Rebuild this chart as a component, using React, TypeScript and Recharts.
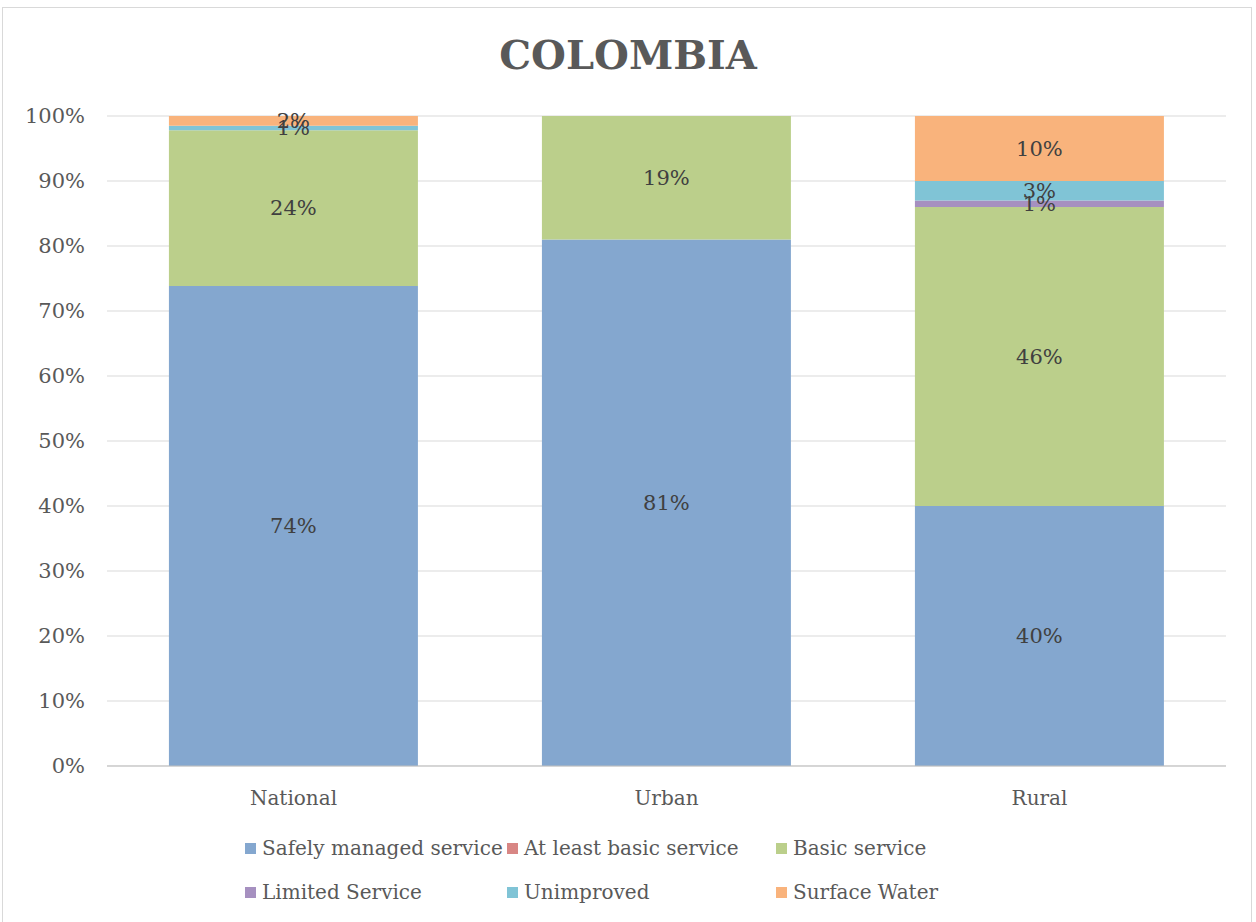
import { BarChart, Bar, XAxis, YAxis, CartesianGrid, LabelList } from 'recharts'

const categories = ['National', 'Urban', 'Rural']
const safelyManaged = [74, 81, 40]
const atLeastBasic = [0, 0, 0]
const basicService = [24, 19, 46]
const limitedService = [0, 0, 1]
const unimproved = [0.7, 0, 3]
const surfaceWater = [1.5, 0, 10]
const yTicks = [0, 0.1, 0.2, 0.3, 0.4, 0.5, 0.6, 0.7, 0.8, 0.9, 1]

const SERIES = [
  { key: 'safely', name: 'Safely managed service', color: '#84a7cf', values: safelyManaged },
  { key: 'atLeast', name: 'At least basic service', color: '#d88684', values: atLeastBasic },
  { key: 'basic', name: 'Basic service', color: '#bbcf8b', values: basicService },
  { key: 'limited', name: 'Limited Service', color: '#a690c0', values: limitedService },
  { key: 'unimproved', name: 'Unimproved', color: '#80c4d6', values: unimproved },
  { key: 'surface', name: 'Surface Water', color: '#f9b37c', values: surfaceWater },
]

const data = categories.map((c, i) => {
  const row: Record<string, string | number> = { name: c }
  SERIES.forEach((s) => {
    row[s.key] = s.values[i]
  })
  return row
})

const FONT = '"DejaVu Serif", serif'
const TEXT = '#595959'

// skip labels for empty segments
function SegLabel(props: any) {
  const { x, y, width, height, value } = props
  if (!value) return null
  return (
    <text
      x={x + width / 2}
      y={y + height / 2}
      textAnchor="middle"
      dominantBaseline="central"
      fill="#404040"
      fontSize={21}
      fontFamily={FONT}
    >
      {`${Math.round(value)}%`}
    </text>
  )
}

const legendCols = [245, 507, 776]
const legendRows = [848, 892]

export default function App() {
  return (
    <div style={{ position: 'absolute', left: 0, top: 0, width: 1256, height: 922, background: '#fff', overflow: 'hidden' }}>
      <div
        style={{
          position: 'absolute',
          left: 2,
          top: 7,
          width: 1248,
          height: 930,
          border: '1px solid #d9d9d9',
        }}
      />
      <div
        style={{
          position: 'absolute',
          left: 0,
          width: 1256,
          top: 31,
          textAlign: 'center',
          fontFamily: FONT,
          fontWeight: 'bold',
          fontSize: 40,
          color: TEXT,
        }}
      >
        COLOMBIA
      </div>
      <div style={{ position: 'absolute', left: 0, top: 0 }}>
        <BarChart
          width={1256}
          height={922}
          data={data}
          stackOffset="expand"
          barCategoryGap="16.6%"
          margin={{ top: 116, right: 30, bottom: 0, left: 0 }}
        >
          <CartesianGrid vertical={false} stroke="#d9d9d9" />
          <XAxis
            dataKey="name"
            height={156}
            axisLine={{ stroke: '#bfbfbf' }}
            tickLine={false}
            tick={{ fill: TEXT, fontSize: 20, fontFamily: FONT }}
            tickMargin={19}
          />
          <YAxis
            width={107}
            ticks={yTicks}
            domain={[0, 1]}
            axisLine={false}
            tickLine={false}
            tickSize={0}
            tickMargin={22}
            tickFormatter={(v: number) => `${Math.round(v * 100)}%`}
            tick={{ fill: TEXT, fontSize: 21, fontFamily: FONT }}
          />
          {SERIES.map((s) => (
            <Bar key={s.key} dataKey={s.key} name={s.name} stackId="a" fill={s.color} isAnimationActive={false}>
              <LabelList dataKey={s.key} content={SegLabel} />
            </Bar>
          ))}
        </BarChart>
      </div>
      {SERIES.map((s, i) => (
        <div
          key={s.key}
          style={{
            position: 'absolute',
            left: legendCols[i % 3],
            top: legendRows[Math.floor(i / 3)] - 13,
            height: 26,
            display: 'flex',
            alignItems: 'center',
            fontFamily: FONT,
            fontSize: 20,
            color: TEXT,
            whiteSpace: 'nowrap',
          }}
        >
          <span style={{ display: 'inline-block', width: 11, height: 11, background: s.color, marginRight: 6 }} />
          {s.name}
        </div>
      ))}
    </div>
  )
}
